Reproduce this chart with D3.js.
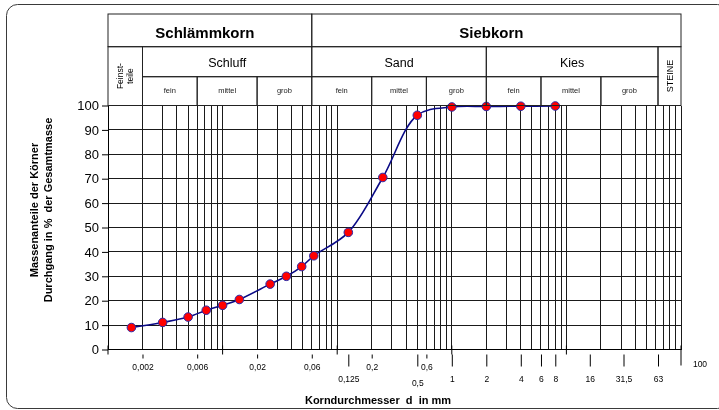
<!DOCTYPE html>
<html>
<head>
<meta charset="utf-8">
<script src="https://cdn.jsdelivr.net/npm/d3@7"></script>
<style>
  html, body { margin: 0; padding: 0; background: #fff; overflow: hidden; }
  svg { display: block; font-family: Arial, "Liberation Sans", sans-serif; will-change: transform; }
</style>
</head>
<body>
<svg id="chart" width="719" height="410"></svg>
<script>
// Sieve / sedimentation results: grain diameter (mm) and percent passing
const diameters = [0.0016, 0.003, 0.005, 0.0072, 0.01, 0.014, 0.026, 0.036, 0.049, 0.0625, 0.125, 0.25, 0.5, 1, 2, 4, 8];
const passing   = [9, 11.1, 13.3, 16.1, 18.1, 20.5, 26.8, 30, 34, 38.4, 48, 70.5, 96, 99.4, 99.6, 99.7, 99.8];

// Axis labelling
const yTicks = [0, 10, 20, 30, 40, 50, 60, 70, 80, 90, 100];
const upperTickValues = [0.002, 0.006, 0.02, 0.06, 0.2, 0.6];
const upperTickLabels = ["0,002", "0,006", "0,02", "0,06", "0,2", "0,6"];
const lowerTickValues = [0.125, 0.5, 1, 2, 4, 6, 8, 16, 31.5, 63];
const lowerTickLabels = ["0,125", "0,5", "1", "2", "4", "6", "8", "16", "31,5", "63"];
const decadeTicks = [0.001, 0.01, 0.1, 1, 10];
const endTick = [100];
const endTickLabel = ["100"];

// Soil classification header (boundaries in mm)
const mainGroupNames = ["Schlämmkorn", "Siebkorn"];
const mainGroupBounds = [0.001, 0.06, 100];
const soilTypeNames = ["Schluff", "Sand", "Kies"];
const soilTypeBounds = [0.002, 0.06, 2, 63];
const fractionNames = ["fein", "mittel", "grob", "fein", "mittel", "grob", "fein", "mittel", "grob"];
const fractionBounds = [0.002, 0.006, 0.02, 0.06, 0.2, 0.6, 2, 6, 20, 63];
const finestBounds = [0.001, 0.002];
const stonesBounds = [63, 100];

const svg = d3.select("#chart");

// Outer rounded frame
svg.append("rect")
  .attr("x", 6.5).attr("y", 4.5).attr("width", 722).attr("height", 404)
  .attr("rx", 11).attr("ry", 11)
  .attr("fill", "none").attr("stroke", "#3a3a3a").attr("stroke-width", 1);

const x = d3.scaleLog().domain([0.001, 100]).range([108, 681]);
const y = d3.scaleLinear().domain([0, 100]).range([349.5, 105.5]);

// Grid
const grid = svg.append("g").attr("stroke", "#1a1a1a").attr("stroke-width", 1)
  .attr("shape-rendering", "crispEdges");
grid.selectAll("line.v").data(x.ticks()).join("line")
  .attr("class", "v")
  .attr("x1", d => x(d)).attr("x2", d => x(d))
  .attr("y1", y(100)).attr("y2", y(0));
grid.selectAll("line.h").data(yTicks.filter(d => d > 0)).join("line")
  .attr("class", "h")
  .attr("x1", x(0.001)).attr("x2", x(100))
  .attr("y1", d => y(d)).attr("y2", d => y(d));

// Y axis
const yAxis = svg.append("g")
  .attr("transform", `translate(${x(0.001)},0)`)
  .call(d3.axisLeft(y).tickValues(yTicks).tickSize(6).tickSizeOuter(0).tickPadding(3).tickFormat(d3.format("d")));
yAxis.select(".domain").attr("stroke", "#000");
yAxis.selectAll(".tick line").attr("stroke", "#000");
yAxis.selectAll("text").attr("font-size", 13).attr("fill", "#000").attr("font-family", "Arial, 'Liberation Sans', sans-serif");

// X axis line with decade ticks crossing it
const y0 = y(0);
svg.append("line").attr("x1", x(0.001)).attr("x2", x(100)).attr("y1", y0).attr("y2", y0)
  .attr("stroke", "#000").attr("stroke-width", 1.2);
svg.append("g").selectAll("line").data(decadeTicks).join("line")
  .attr("x1", d => x(d)).attr("x2", d => x(d))
  .attr("y1", y0 - 4).attr("y2", y0 + 5)
  .attr("stroke", "#000");

function labelAxis(values, labels, tickLen, pad) {
  const g = svg.append("g")
    .attr("transform", `translate(0,${y0 + 5})`)
    .call(d3.axisBottom(x).tickValues(values).tickSize(tickLen).tickPadding(pad)
      .tickFormat((d, i) => labels[i]));
  g.select(".domain").remove();
  g.selectAll(".tick line").attr("stroke", "#000");
  g.selectAll("text").attr("font-size", 8.5).attr("fill", "#000")
    .attr("font-family", "Arial, 'Liberation Sans', sans-serif");
  return g;
}
labelAxis(upperTickValues, upperTickLabels, 4, 5);
const lower = labelAxis(lowerTickValues, lowerTickLabels, 12, 9);
lower.selectAll(".tick text").filter(d => d === 0.5).attr("dy", "1.2em");

// Closing tick at 100 mm with its label set to the right
svg.append("line").attr("x1", x(100)).attr("x2", x(100)).attr("y1", y0 - 4).attr("y2", y0 + 16)
  .attr("stroke", "#000");
svg.append("text").attr("x", x(endTick[0]) + 19).attr("y", y0 + 17.5)
  .attr("text-anchor", "middle").attr("font-size", 8.5).text(endTickLabel[0]);

// Grain-size curve
const pts = diameters.map((d, i) => ({ d, p: passing[i] }));
const line = d3.line().x(d => x(d.d)).y(d => y(d.p)).curve(d3.curveCatmullRom.alpha(0.5));
svg.append("path").datum(pts).attr("d", line)
  .attr("fill", "none").attr("stroke", "#0a0a86").attr("stroke-width", 1.6);
svg.append("g").selectAll("circle").data(pts).join("circle")
  .attr("cx", d => x(d.d)).attr("cy", d => y(d.p)).attr("r", 4.3)
  .attr("fill", "#ff0000").attr("stroke", "#2a2aa8").attr("stroke-width", 1);

// Classification header
const rowTop = 14, row2 = 46.7, row3 = 76.7, rowBottom = y(100);
const head = svg.append("g").attr("fill", "none").attr("stroke", "#222").attr("stroke-width", 1);
function cell(a, b, t, bt) {
  head.append("rect").attr("x", x(a)).attr("y", t).attr("width", x(b) - x(a)).attr("height", bt - t);
}
mainGroupNames.forEach((n, i) => cell(mainGroupBounds[i], mainGroupBounds[i + 1], rowTop, row2));
cell(finestBounds[0], finestBounds[1], row2, rowBottom);
cell(stonesBounds[0], stonesBounds[1], row2, rowBottom);
soilTypeNames.forEach((n, i) => cell(soilTypeBounds[i], soilTypeBounds[i + 1], row2, row3));
fractionNames.forEach((n, i) => cell(fractionBounds[i], fractionBounds[i + 1], row3, rowBottom));

const mid = (a, b) => (x(a) + x(b)) / 2;
const txt = svg.append("g").attr("fill", "#000").attr("text-anchor", "middle");
mainGroupNames.forEach((n, i) => {
  txt.append("text").attr("x", mid(mainGroupBounds[i], mainGroupBounds[i + 1]) - 5).attr("y", 38)
    .attr("font-size", 15).attr("font-weight", "bold").text(n);
});
soilTypeNames.forEach((n, i) => {
  txt.append("text").attr("x", mid(soilTypeBounds[i], soilTypeBounds[i + 1])).attr("y", 66.5)
    .attr("font-size", 12.5).text(n);
});
fractionNames.forEach((n, i) => {
  txt.append("text").attr("x", mid(fractionBounds[i], fractionBounds[i + 1])).attr("y", 92.5)
    .attr("font-size", 7.5).attr("fill", "#222").text(n);
});
// Rotated labels for the narrow outer columns
const fx = mid(finestBounds[0], finestBounds[1]);
const fy = (row2 + rowBottom) / 2;
const ft = txt.append("text").attr("transform", `translate(${fx},${fy}) rotate(-90)`)
  .attr("font-size", 8.5);
ft.append("tspan").attr("x", 0).attr("y", -2).text("Feinst-");
ft.append("tspan").attr("x", 0).attr("y", 7.5).text("teile");
txt.append("text").attr("transform", `translate(${mid(stonesBounds[0], stonesBounds[1]) + 3.5},${fy}) rotate(-90)`)
  .attr("font-size", 9).text("STEINE");

// Axis titles
const yt = svg.append("text").attr("transform", "translate(0,210) rotate(-90)")
  .attr("text-anchor", "middle").attr("font-size", 11).attr("font-weight", "bold")
  .style("white-space", "pre");
yt.append("tspan").attr("x", 0).attr("y", 38).text("Massenanteile der Körner");
yt.append("tspan").attr("x", 0).attr("y", 52).text("Durchgang in %  der Gesamtmasse");

svg.append("text").attr("x", 378).attr("y", 404).attr("text-anchor", "middle")
  .attr("font-size", 11).attr("font-weight", "bold").style("white-space", "pre")
  .text("Korndurchmesser  d  in mm");
</script>
</body>
</html>
